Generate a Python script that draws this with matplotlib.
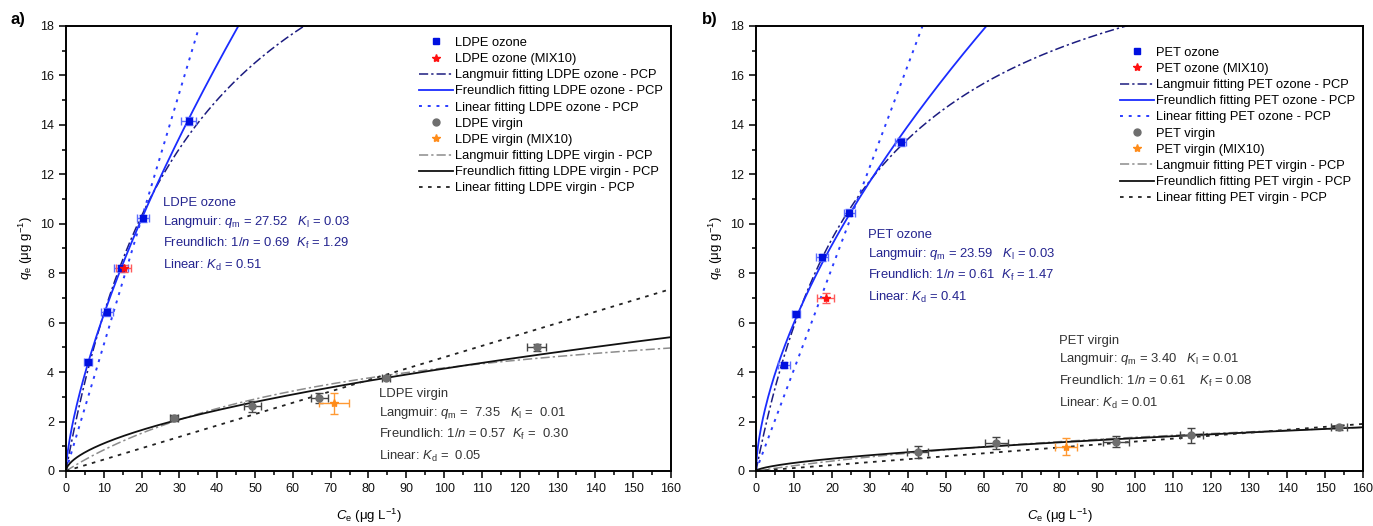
import numpy as np
import matplotlib
matplotlib.use("Agg")
import matplotlib.pyplot as plt
from matplotlib.ticker import MultipleLocator

plt.rcParams["font.family"] = ["Liberation Sans", "DejaVu Sans"]
plt.rcParams["mathtext.fontset"] = "custom"
plt.rcParams["mathtext.rm"] = "Liberation Sans"
plt.rcParams["mathtext.it"] = "Liberation Sans:italic"
plt.rcParams["mathtext.bf"] = "Liberation Sans:bold"

# ---- LDPE data ----
ldpe_oz_x = [5.9, 10.9, 14.6, 20.4, 32.5]
ldpe_oz_y = [4.4, 6.43, 8.2, 10.22, 14.15]
ldpe_oz_xerr = [1.0, 1.6, 1.8, 1.6, 2.0]
ldpe_oz_yerr = [0.12, 0.15, 0.15, 0.15, 0.15]
ldpe_ozmix_x = [15.3]
ldpe_ozmix_y = [8.2]
ldpe_ozmix_xerr = [2.0]
ldpe_ozmix_yerr = [0.15]
ldpe_vir_x = [28.6, 49.3, 67.0, 84.6, 124.5]
ldpe_vir_y = [2.13, 2.62, 2.97, 3.76, 5.0]
ldpe_vir_xerr = [1.0, 2.2, 2.2, 1.0, 2.5]
ldpe_vir_yerr = [0.12, 0.22, 0.2, 0.05, 0.15]
ldpe_virmix_x = [70.9]
ldpe_virmix_y = [2.74]
ldpe_virmix_xerr = [4.0]
ldpe_virmix_yerr = [0.42]

# fitted parameters (LDPE)
ldpe_oz_lang = (27.52, 0.03)
ldpe_oz_freu = (0.69, 1.29)
ldpe_oz_kd = 0.51
ldpe_vir_lang = (7.35, 0.0131)
ldpe_vir_freu = (0.57, 0.30)
ldpe_vir_kd = 0.046

# ---- PET data ----
pet_oz_x = [7.5, 10.5, 17.5, 24.6, 38.1]
pet_oz_y = [4.27, 6.36, 8.64, 10.45, 13.3]
pet_oz_xerr = [1.6, 1.0, 1.6, 1.4, 1.4]
pet_oz_yerr = [0.12, 0.12, 0.15, 0.15, 0.15]
pet_ozmix_x = [18.4]
pet_ozmix_y = [7.0]
pet_ozmix_xerr = [2.2]
pet_ozmix_yerr = [0.2]
pet_vir_x = [42.6, 63.3, 94.9, 114.8, 153.7]
pet_vir_y = [0.78, 1.12, 1.18, 1.45, 1.76]
pet_vir_xerr = [2.8, 3.0, 3.3, 3.0, 2.2]
pet_vir_yerr = [0.25, 0.25, 0.22, 0.3, 0.1]
pet_virmix_x = [81.7]
pet_virmix_y = [0.98]
pet_virmix_xerr = [3.0]
pet_virmix_yerr = [0.35]

# fitted parameters (PET)
pet_oz_lang = (23.59, 0.033)
pet_oz_freu = (0.61, 1.47)
pet_oz_kd = 0.41
pet_vir_lang = (3.40, 0.0067)
pet_vir_freu = (0.61, 0.08)
pet_vir_kd = 0.0119

OZ_TXT = "#24248f"
VIR_TXT = "#333333"
LINE_OFFSETS = [0, 0.76, 1.64, 2.52]


def langmuir(x, qm, kl):
    return qm * kl * x / (1 + kl * x)


def freundlich(x, inv_n, kf):
    return kf * x ** inv_n


def draw_panel(ax, name, oz, ozmix, vir, virmix, fits, texts, leg_top):
    ce = np.linspace(0, 160, 600)
    (oz_l, oz_f, oz_k), (vir_l, vir_f, vir_k) = fits

    # errorbars
    for (x, y, xe, ye), col in [(oz, "#5c6cff"), (ozmix, "#ff5a5a"),
                                (vir, "#444444"), (virmix, "#ff9933")]:
        ax.errorbar(x, y, xerr=xe, yerr=ye, fmt="none", ecolor=col,
                    elinewidth=1.0, capsize=3, capthick=1.0, zorder=3)

    h = []
    h += ax.plot(oz[0], oz[1], "s", color="#0010e0", ms=5, zorder=5,
                 label=f"{name} ozone")
    h += ax.plot(ozmix[0], ozmix[1], "*", color="#ff1010", ms=6, zorder=6,
                 label=f"{name} ozone (MIX10)")
    h += ax.plot(ce, langmuir(ce, *oz_l), color="#1c1c80", lw=1.1,
                 ls=(0, (6, 2, 1.5, 2)), label=f"Langmuir fitting {name} ozone - PCP")
    h += ax.plot(ce, freundlich(ce, *oz_f), color="#1a2cff", lw=1.3,
                 label=f"Freundlich fitting {name} ozone - PCP")
    h += ax.plot(ce, oz_k * ce, color="#2a3cff", lw=1.4, ls=(0, (1.5, 3)),
                 label=f"Linear fitting {name} ozone - PCP")
    h += ax.plot(vir[0], vir[1], "o", color="#6e6e6e", ms=5, zorder=5,
                 label=f"{name} virgin")
    h += ax.plot(virmix[0], virmix[1], "*", color="#ff8c1a", ms=6, zorder=6,
                 label=f"{name} virgin (MIX10)")
    h += ax.plot(ce, langmuir(ce, *vir_l), color="#8c8c8c", lw=1.1,
                 ls=(0, (6, 2, 1.5, 2)), label=f"Langmuir fitting {name} virgin - PCP")
    h += ax.plot(ce, freundlich(ce, *vir_f), color="#111111", lw=1.3,
                 label=f"Freundlich fitting {name} virgin - PCP")
    h += ax.plot(ce, vir_k * ce, color="#222222", lw=1.3, ls=(0, (2, 3)),
                 label=f"Linear fitting {name} virgin - PCP")

    ax.set_xlim(0, 160)
    ax.set_ylim(0, 18)
    ax.xaxis.set_major_locator(MultipleLocator(10))
    ax.xaxis.set_minor_locator(MultipleLocator(5))
    ax.yaxis.set_major_locator(MultipleLocator(2))
    ax.yaxis.set_minor_locator(MultipleLocator(1))
    ax.tick_params(which="both", direction="out", labelsize=9, width=1.2,
                   colors="#111111")
    ax.tick_params(which="major", length=5)
    ax.tick_params(which="minor", length=3)
    for s in ax.spines.values():
        s.set_linewidth(1.4)
    ax.set_xlabel(r"$C_\mathrm{e}$ (μg L$^{-1}$)", fontsize=9.5, labelpad=9)
    ax.set_ylabel(r"$q_\mathrm{e}$ (μg g$^{-1}$)", fontsize=9.5, labelpad=4)

    ax.legend(handles=h, loc="upper right", bbox_to_anchor=(1.0, leg_top),
              frameon=False, fontsize=9.3, handlelength=2.6, handletextpad=0.2,
              labelspacing=0.32, borderaxespad=0.2)

    for (tx, ty, lines, col) in texts:
        for off, line in zip(LINE_OFFSETS, lines):
            ax.text(tx, ty - off, line, color=col, fontsize=9.35,
                    va="center", ha="left")


fig = plt.figure(figsize=(13.73, 5.26), dpi=100)
ax1 = fig.add_axes([0.048, 0.1046, 0.4407, 0.846])
ax2 = fig.add_axes([0.5506, 0.1046, 0.4421, 0.846])

draw_panel(
    ax1, "LDPE",
    (ldpe_oz_x, ldpe_oz_y, ldpe_oz_xerr, ldpe_oz_yerr),
    (ldpe_ozmix_x, ldpe_ozmix_y, ldpe_ozmix_xerr, ldpe_ozmix_yerr),
    (ldpe_vir_x, ldpe_vir_y, ldpe_vir_xerr, ldpe_vir_yerr),
    (ldpe_virmix_x, ldpe_virmix_y, ldpe_virmix_xerr, ldpe_virmix_yerr),
    ((ldpe_oz_lang, ldpe_oz_freu, ldpe_oz_kd),
     (ldpe_vir_lang, ldpe_vir_freu, ldpe_vir_kd)),
    [(25.7, 10.83, ["LDPE ozone",
                    r"Langmuir: $q_\mathrm{m}$ = 27.52   $K_\mathrm{l}$ = 0.03",
                    r"Freundlich: 1/$n$ = 0.69  $K_\mathrm{f}$ = 1.29",
                    r"Linear: $K_\mathrm{d}$ = 0.51"], OZ_TXT),
     (82.8, 3.12, ["LDPE virgin",
                   r"Langmuir: $q_\mathrm{m}$ =  7.35   $K_\mathrm{l}$ =  0.01",
                   r"Freundlich: 1/$n$ = 0.57  $K_\mathrm{f}$ =  0.30",
                   r"Linear: $K_\mathrm{d}$ =  0.05"], VIR_TXT)],
    0.993,
)

draw_panel(
    ax2, "PET",
    (pet_oz_x, pet_oz_y, pet_oz_xerr, pet_oz_yerr),
    (pet_ozmix_x, pet_ozmix_y, pet_ozmix_xerr, pet_ozmix_yerr),
    (pet_vir_x, pet_vir_y, pet_vir_xerr, pet_vir_yerr),
    (pet_virmix_x, pet_virmix_y, pet_virmix_xerr, pet_virmix_yerr),
    ((pet_oz_lang, pet_oz_freu, pet_oz_kd),
     (pet_vir_lang, pet_vir_freu, pet_vir_kd)),
    [(29.6, 9.53, ["PET ozone",
                   r"Langmuir: $q_\mathrm{m}$ = 23.59   $K_\mathrm{l}$ = 0.03",
                   r"Freundlich: 1/$n$ = 0.61  $K_\mathrm{f}$ = 1.47",
                   r"Linear: $K_\mathrm{d}$ = 0.41"], OZ_TXT),
     (79.9, 5.27, ["PET virgin",
                   r"Langmuir: $q_\mathrm{m}$ = 3.40   $K_\mathrm{l}$ = 0.01",
                   r"Freundlich: 1/$n$ = 0.61    $K_\mathrm{f}$ = 0.08",
                   r"Linear: $K_\mathrm{d}$ = 0.01"], VIR_TXT)],
    0.971,
)

fig.text(0.008, 0.962, "a)", fontsize=12, fontweight="bold", va="center")
fig.text(0.511, 0.962, "b)", fontsize=12, fontweight="bold", va="center")

fig.savefig("out.png", dpi=100)
